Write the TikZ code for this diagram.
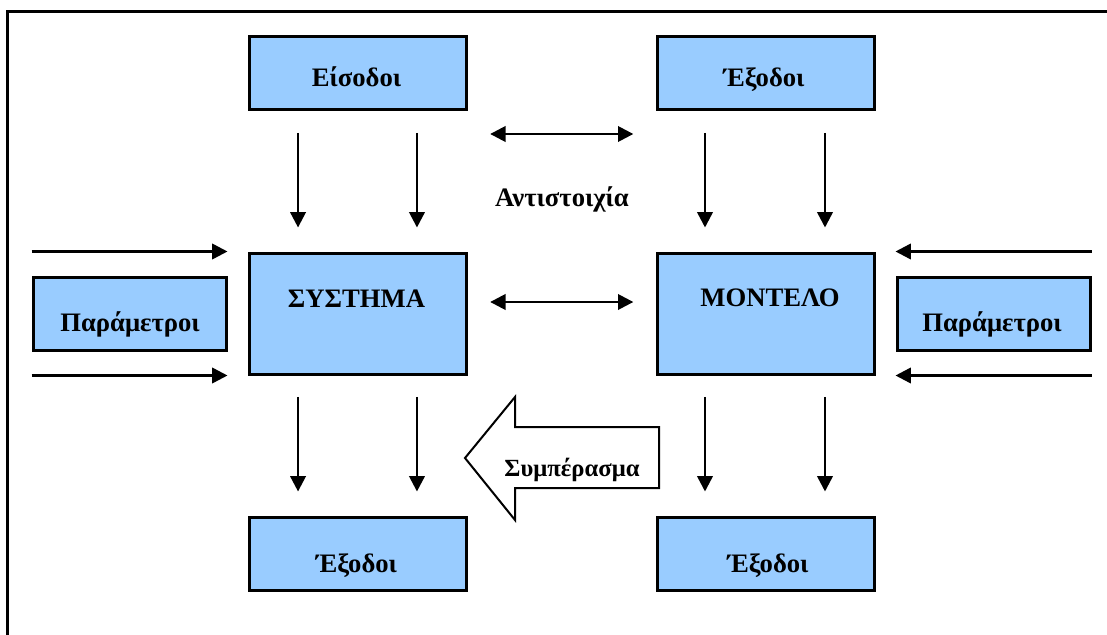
\documentclass[tikz,border=0pt]{standalone}
\usepackage{fontspec}
\setmainfont{Liberation Serif}
\usetikzlibrary{arrows.meta}

\definecolor{boxblue}{HTML}{99CCFF}

\tikzset{
  blk/.style={draw, line width=2.25pt, fill=boxblue, inner sep=0pt},
  smallblk/.style={blk, minimum width=162.75pt, minimum height=54.75pt},
  bigblk/.style={blk, minimum width=162.75pt, minimum height=90.75pt},
  parblk/.style={blk, minimum width=144.75pt, minimum height=54.75pt},
  lbl/.style={anchor=base, inner sep=0.75pt, font=\fontsize{20}{24}\selectfont\bfseries},
  caplbl/.style={lbl, font=\fontsize{20}{24}\selectfont\bfseries},
  flow/.style={line width=1.9pt, -{Triangle[length=11.5pt,width=11.5pt]}},
  both/.style={line width=1.9pt, {Triangle[length=11.5pt,width=11.5pt]}-{Triangle[length=11.5pt,width=11.5pt]}},
  vgap/.style={shorten <=16pt, shorten >=18pt},
  hgap/.style={shorten <=17pt, shorten >=17pt}
}

\begin{document}
\begin{tikzpicture}[x=0.75pt,y=0.75pt,yscale=-1,xscale=1]
\useasboundingbox (0,0) rectangle (1107,635);

%Shape: Frame
\draw [line width=2.25pt] (1112,12) -- (7,12) -- (7,640) ;

%Shape: Rectangle [inputs]
\node (inp) [smallblk] at (357.5,73.5) {};
%Shape: Rectangle [model outputs, top]
\node (mout) [smallblk] at (766,73.5) {};
%Shape: Rectangle [system]
\node (sys) [bigblk] at (357.5,313.5) {};
%Shape: Rectangle [model]
\node (mod) [bigblk] at (766,313.5) {};
%Shape: Rectangle [parameters, left]
\node (parl) [parblk] at (129.5,313.5) {};
%Shape: Rectangle [parameters, right]
\node (parr) [parblk] at (993.5,313.5) {};
%Shape: Rectangle [system outputs]
\node (sout) [smallblk] at (357.5,553.5) {};
%Shape: Rectangle [model outputs, bottom]
\node (mout2) [smallblk] at (766,553.5) {};

%Shape: Big Arrow
\draw [line width=1.5pt, fill=white] (465,458) -- (515,397) -- (515,427) -- (659,427) -- (659,488) -- (515,488) -- (515,520) -- cycle ;

%Straight Lines [inputs -> system]
\draw [flow, vgap] ([xshift=-44.6pt]inp.south) -- ([xshift=-44.6pt]sys.north) ;
\draw [flow, vgap] ([xshift=44.6pt]inp.south) -- ([xshift=44.6pt]sys.north) ;
%Straight Lines [outputs -> model]
\draw [flow, vgap] ([xshift=-45.75pt]mout.south) -- ([xshift=-45.75pt]mod.north) ;
\draw [flow, vgap] ([xshift=44.25pt]mout.south) -- ([xshift=44.25pt]mod.north) ;
%Straight Lines [system -> outputs]
\draw [flow, vgap] ([xshift=-44.6pt]sys.south) -- ([xshift=-44.6pt]sout.north) ;
\draw [flow, vgap] ([xshift=44.6pt]sys.south) -- ([xshift=44.6pt]sout.north) ;
%Straight Lines [model -> outputs]
\draw [flow, vgap] ([xshift=-45.75pt]mod.south) -- ([xshift=-45.75pt]mout2.north) ;
\draw [flow, vgap] ([xshift=44.25pt]mod.south) -- ([xshift=44.25pt]mout2.north) ;

%Straight Lines [parameters]
\draw [flow] (parl.west |- sys.north) -- (parl.east |- sys.north) ;
\draw [flow] (parl.west |- sys.south) -- (parl.east |- sys.south) ;
\draw [flow] (parr.east |- mod.north) -- (parr.west |- mod.north) ;
\draw [flow] (parr.east |- mod.south) -- (parr.west |- mod.south) ;

%Straight Lines [correspondence]
\coordinate (corrtop) at (0,134) ;
\coordinate (corrmid) at (0,302) ;
\draw [both, hgap] (sys.east |- corrtop) -- (mod.west |- corrtop) ;
\draw [both, hgap] (sys.east |- corrmid) -- (mod.west |- corrmid) ;

% Text Node
\node (inplbl) [lbl] at (356.5,86.5) {Είσοδοι};
% Text Node
\node (moutlbl) [lbl] at (764,87) {Έξοδοι};
% Text Node
\node (corrlbl) [lbl] at (562,206.5) {Αντιστοιχία};
% Text Node
\node (syslbl) [caplbl] at (356.5,307) {ΣΥΣΤΗΜΑ};
% Text Node
\node (modlbl) [caplbl] at (770,306) {ΜΟΝΤΕΛΟ};
% Text Node
\node (parllbl) [lbl] at (130,331) {Παράμετροι};
% Text Node
\node (parrlbl) [lbl] at (992,331) {Παράμετροι};
% Text Node
\node (conclbl) [lbl, font=\fontsize{18.5}{22}\selectfont\bfseries] at (572,476) {Συμπέρασμα};
% Text Node
\node (soutlbl) [lbl] at (356.5,572) {Έξοδοι};
% Text Node
\node (mout2lbl) [lbl] at (768,572) {Έξοδοι};

\end{tikzpicture}
\end{document}
